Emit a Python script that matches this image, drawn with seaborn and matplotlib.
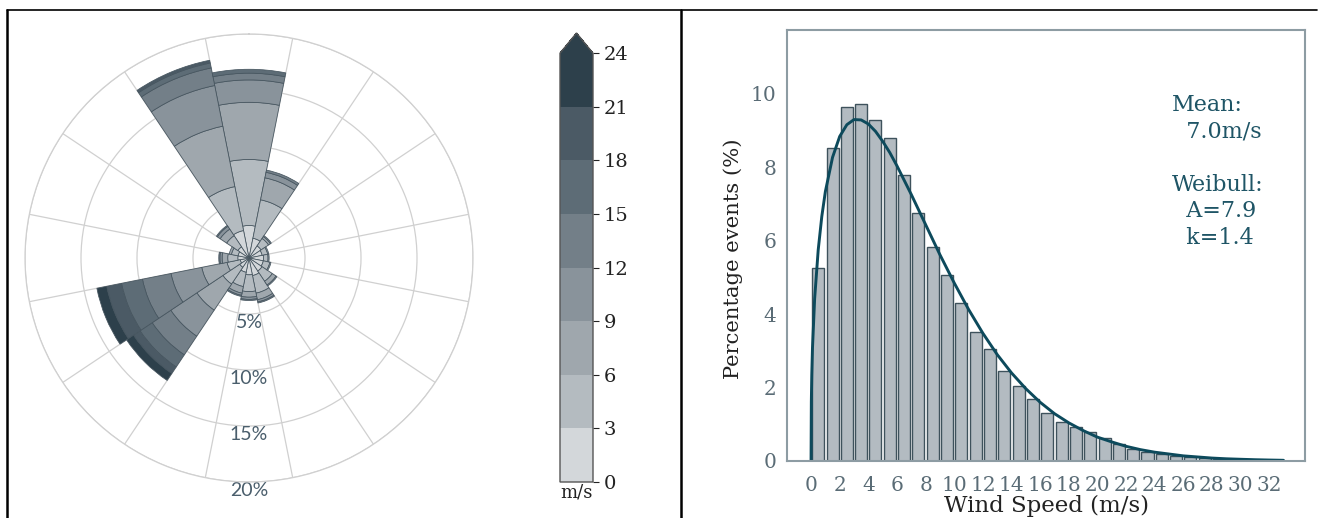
import numpy as np
import matplotlib
matplotlib.use("Agg")
import matplotlib.pyplot as plt
import matplotlib as mpl
from matplotlib.colors import ListedColormap, BoundaryNorm
from matplotlib.lines import Line2D
import seaborn as sns

# ---------------- data ----------------
directions = ["N", "NNE", "NE", "ENE", "E", "ESE", "SE", "SSE",
              "S", "SSW", "SW", "WSW", "W", "WNW", "NW", "NNW"]
speed_levels = [0, 3, 6, 9, 12, 15, 18, 21, 24]
# percentage of events per direction for each speed class (m/s)
spd_0_3   = [2.9, 1.8, 1.3, 1.2, 1.3, 1.3, 1.4, 1.6, 1.5, 1.3, 1.0, 0.8, 1.0, 1.0, 1.2, 2.5]
spd_3_6   = [5.9, 3.5, 0.8, 0.5, 0.4, 0.6, 1.1, 1.6, 1.5, 1.3, 1.8, 1.2, 0.9, 0.6, 1.2, 4.0]
spd_6_9   = [5.1, 2.0, 0.2, 0.1, 0.1, 0.1, 0.4, 0.6, 0.5, 0.6, 2.8, 2.3, 0.5, 0.2, 0.7, 5.5]
spd_9_12  = [2.0, 0.5, 0.1, 0.0, 0.0, 0.0, 0.1, 0.2, 0.2, 0.2, 2.8, 2.8, 0.2, 0.0, 0.3, 3.7]
spd_12_15 = [0.6, 0.2, 0.0, 0.0, 0.0, 0.0, 0.0, 0.1, 0.1, 0.1, 2.0, 2.6, 0.1, 0.0, 0.1, 1.6]
spd_15_18 = [0.35, 0.0, 0.0, 0.0, 0.0, 0.0, 0.0, 0.0, 0.0, 0.0, 1.3, 1.9, 0.0, 0.0, 0.0, 0.45]
spd_18_21 = [0.0, 0.0, 0.0, 0.0, 0.0, 0.0, 0.0, 0.0, 0.0, 0.0, 0.7, 1.35, 0.0, 0.0, 0.0, 0.25]
spd_21_24 = [0.0, 0.0, 0.0, 0.0, 0.0, 0.0, 0.0, 0.0, 0.0, 0.0, 0.75, 0.9, 0.0, 0.0, 0.0, 0.0]
speed_classes = [spd_0_3, spd_3_6, spd_6_9, spd_9_12, spd_12_15, spd_15_18, spd_18_21, spd_21_24]
rose_rings = [5, 10, 15, 20]
rose_ring_labels = ["5%", "10%", "15%", "20%"]

# histogram of wind speed (1 m/s bins)
speed_bin_edges = list(range(0, 33))
speed_pct = [5.27, 8.52, 9.65, 9.73, 9.29, 8.79, 7.79, 6.75, 5.84, 5.07,
             4.31, 3.51, 3.04, 2.45, 2.04, 1.68, 1.32, 1.07, 0.92, 0.78,
             0.62, 0.46, 0.34, 0.25, 0.18, 0.14, 0.11, 0.08, 0.06, 0.05,
             0.04, 0.03]
# Weibull curve
curve_x = [0, 0.02, 0.05, 0.1, 0.25, 0.5, 0.75, 1, 1.5, 2, 2.5, 3, 3.5, 4, 4.5, 5, 5.5, 6,
           7, 8, 9, 10, 11, 12, 13, 14, 15, 16, 17, 18, 19, 20, 21, 22, 23, 24,
           25, 26, 27, 28, 29, 30, 31, 32, 33]
curve_y = [0, 1.62, 2.34, 3.08, 4.42, 5.75, 6.66, 7.34, 8.27, 8.84, 9.16, 9.30, 9.29, 9.18,
           8.98, 8.71, 8.40, 8.04, 7.26, 6.44, 5.62, 4.85, 4.13, 3.48, 2.90, 2.40, 1.97,
           1.60, 1.29, 1.04, 0.83, 0.65, 0.52, 0.40, 0.31, 0.24, 0.19, 0.14, 0.11,
           0.08, 0.06, 0.047, 0.035, 0.026, 0.019]
xticks_hist = list(range(0, 33, 2))
yticks_hist = [0, 2, 4, 6, 8, 10]
annot = "Mean:\n  7.0m/s\n\nWeibull:\n  A=7.9\n  k=1.4"

# ---------------- style ----------------
sns.set_style("white")
plt.rcParams['font.family'] = ['DejaVu Serif']

class_colors = ["#d3d7da", "#b4bbc0", "#9fa7ad", "#89939b",
                "#737f88", "#5d6c76", "#4b5a65", "#2d404b"]

W, H = 1319, 518
fig = plt.figure(figsize=(W / 100, H / 100), dpi=100)

# ---------------- wind rose ----------------
cx, cy, rad = 249, 258, 224
axp = fig.add_axes([(cx - rad) / W, (H - cy - rad) / H, 2 * rad / W, 2 * rad / H],
                   projection="polar")
axp.set_theta_zero_location("N")
axp.set_theta_direction(-1)
theta = np.deg2rad(np.arange(len(directions)) * 360.0 / len(directions))
width = 2 * np.pi / len(directions)
bottom = np.zeros(len(directions))
for vals, col in zip(speed_classes, class_colors):
    vals = np.asarray(vals)
    m = vals > 0
    axp.bar(theta[m], vals[m], width=width, bottom=bottom[m], color=col,
            edgecolor="#46555f", linewidth=0.55, zorder=3)
    bottom = bottom + vals
axp.set_ylim(0, 20)
axp.set_yticks(rose_rings)
axp.set_yticklabels(rose_ring_labels, fontfamily="Lato", fontsize=14, color="#4a5e6c")
axp.set_rlabel_position(180)
axp.set_xticks(theta + width / 2)
axp.set_xticklabels([])
axp.grid(True, color="#d0d0d0", linewidth=0.9)
axp.spines["polar"].set_color("#d0d0d0")
axp.spines["polar"].set_linewidth(0.9)
for lab in axp.get_yticklabels():
    lab.set_horizontalalignment("center")
    lab.set_verticalalignment("top")
axp.set_axisbelow(True)

# ---------------- colorbar ----------------
cax = fig.add_axes([560 / W, (H - 482) / H, 33 / W, (482 - 33) / H])
cmap = ListedColormap(class_colors)
cmap.set_over(class_colors[-1])
norm = BoundaryNorm(speed_levels, cmap.N)
cb = fig.colorbar(mpl.cm.ScalarMappable(norm=norm, cmap=cmap), cax=cax,
                  extend="max", ticks=speed_levels, extendfrac=0.047)
cb.outline.set_edgecolor("#555555")
cb.outline.set_linewidth(1.0)
cax.tick_params(labelsize=14, colors="#222222", length=4, width=0.8)
cax.set_xlabel("m/s", fontsize=13, color="#222222", labelpad=1)

# ---------------- histogram ----------------
axh = fig.add_axes([787 / W, (H - 461) / H, (1305 - 787) / W, (461 - 30) / H])
centers = [e + 0.5 for e in speed_bin_edges[:-1]]
sns.histplot(x=centers, weights=speed_pct, bins=speed_bin_edges, shrink=0.84,
             color="#b3bbc1", edgecolor="#3e525c", linewidth=1.0, alpha=1.0, ax=axh)
sns.lineplot(x=curve_x, y=curve_y, color="#0d4a5c", linewidth=2.1, ax=axh)
axh.set_xlim(-1.68, 34.5)
axh.set_ylim(0, 11.74)
axh.set_xticks(xticks_hist)
axh.set_yticks(yticks_hist)
axh.tick_params(labelsize=14.5, colors="#5a6c76", length=4, width=0.8)
axh.tick_params(axis="x", pad=7)
for s in axh.spines.values():
    s.set_visible(True)
    s.set_color("#8d9ca3")
    s.set_linewidth(1.5)
axh.set_xlabel("Wind Speed (m/s)", fontsize=16.5, color="#222222", labelpad=0)
axh.set_ylabel("Percentage events (%)", fontsize=15.2, color="#222222")
axh.yaxis.set_label_coords(-0.085, 0.469)
axh.text(0.743, 0.852, annot, transform=axh.transAxes, ha="left", va="top",
         fontsize=16, color="#1f5566", linespacing=1.27)

# ---------------- table borders ----------------
def px_line(x0, y0, x1, y1, lw=1.6):
    fig.add_artist(Line2D([x0 / W, x1 / W], [1 - y0 / H, 1 - y1 / H],
                          transform=fig.transFigure, color="black", linewidth=lw))

px_line(7, 10, 1317, 10, 1.2)
px_line(7, 10, 7, 518, 1.8)
px_line(681, 10, 681, 518, 1.8)

fig.savefig("out.png", dpi=100)
